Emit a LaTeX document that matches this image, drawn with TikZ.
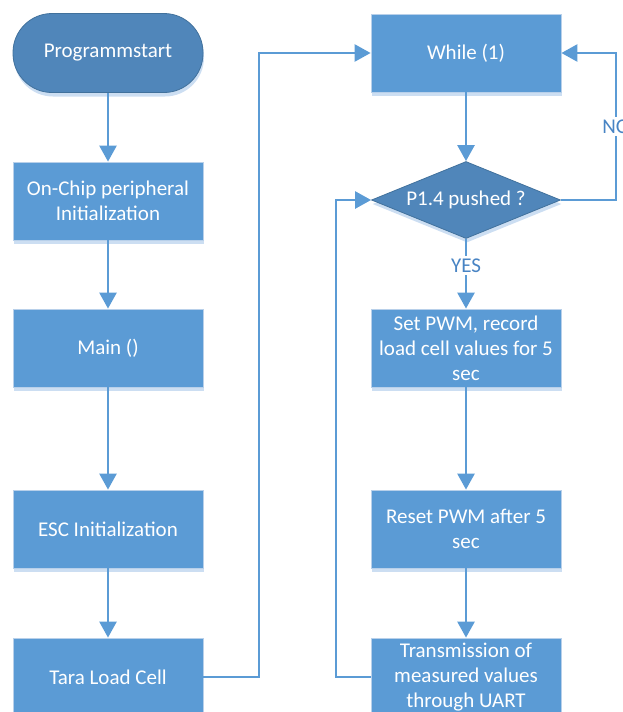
\documentclass[tikz,border=0pt]{standalone}
\usepackage{fontspec}
\setmainfont{Carlito}
\usetikzlibrary{arrows.meta,shapes.geometric,shadows}
\definecolor{boxblue}{RGB}{91,155,213}
\definecolor{darkblue}{RGB}{80,134,186}
\definecolor{edgedark}{RGB}{65,113,156}
\definecolor{edgelight}{RGB}{184,208,234}
\definecolor{shadowblue}{RGB}{204,222,242}
\definecolor{labelblue}{RGB}{72,132,196}

\begin{document}
\begin{tikzpicture}[x=1pt,y=-1pt,
  txt/.style={font=\fontsize{21}{25}\selectfont, text=white, align=center},
  softshadow/.style={drop shadow={shadow xshift=1pt, shadow yshift=-4pt, fill=shadowblue, opacity=1}},
  procbox/.style={txt, rectangle, fill=boxblue, draw=edgelight, line width=0.8pt,
    minimum width=190pt, minimum height=78pt, inner sep=0pt, softshadow},
  startbox/.style={txt, rectangle, rounded corners=39pt, fill=darkblue, draw=edgedark, line width=0.8pt,
    minimum width=190pt, minimum height=79pt, inner sep=0pt, softshadow},
  decbox/.style={txt, diamond, shape aspect=2.45, fill=darkblue, draw=edgedark, line width=0.8pt,
    minimum width=189pt, minimum height=77pt, inner sep=0pt, softshadow},
  flow/.style={draw=boxblue, line width=2.6pt, -{Triangle[length=16pt,width=17pt]}},
  flowlabel/.style={font=\fontsize{21}{25}\selectfont, text=labelblue, fill=white, inner sep=3pt}
]
\useasboundingbox (0,0) rectangle (622,712);
\clip (0,0) rectangle (622,712);

% left column
\node[startbox] (start) at (108,53) {\raisebox{-2pt}{Programmstart}};
\node[procbox] (onchip) at (108,201) {On-Chip peripheral\\Initialization};
\node[procbox] (main) at (108,348) {Main ()};
\node[procbox] (esc) at (108,529) {ESC Initialization};
\node[procbox] (tara) at (108,677) {Tara Load Cell};

% right column
\node[procbox] (while) at (466,53) {While (1)};
\node[decbox] (dec) at (466,200) {P1.4 pushed ?};
\node[procbox] (setpwm) at (466,348) {Set PWM, record\\load cell values for 5\\sec};
\node[procbox] (reset) at (466,529) {Reset PWM after 5\\sec};
\node[procbox] (trans) at (466,677) {Transmission of\\measured values\\through UART};

% bend points of the loop connectors
\coordinate (bendA) at (259,0);
\coordinate (noX) at (616,0);
\coordinate (backX) at (336,0);

% straight flow
\draw[flow] (start) -- (onchip);
\draw[flow] (onchip) -- (main);
\draw[flow] (main) -- (esc);
\draw[flow] (esc) -- (tara);
\draw[flow] (while) -- (dec);
\draw[flow] (dec.south) -- node[flowlabel, pos=0.38] {YES} (setpwm.north);
\draw[flow] (setpwm) -- (reset);
\draw[flow] (reset) -- (trans);

% loops
\draw[flow] (tara.east) -- (tara.east -| bendA) -- (bendA |- while.west) -- (while.west);
\draw[flow] (dec.east) -- (dec.east -| noX) -- node[flowlabel] {NO} (noX |- while.east) -- (while.east);
\draw[flow] (trans.west) -- (trans.west -| backX) -- (backX |- dec.west) -- (dec.west);
\end{tikzpicture}
\end{document}
